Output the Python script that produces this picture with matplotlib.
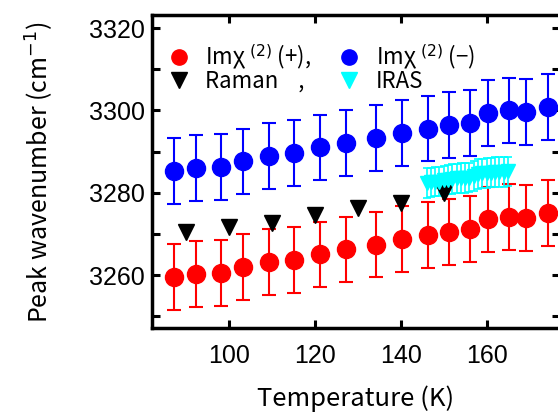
import matplotlib
matplotlib.use("Agg")
import matplotlib.pyplot as plt
from matplotlib.lines import Line2D
from matplotlib.ticker import MultipleLocator

# Im chi(2) peak positions (+) and (-) vs temperature
temp_sfg = [87.1, 92.2, 98.1, 103.2, 109.2, 115.2, 121.2, 127.2, 134.3,
            140.3, 146.3, 151.2, 156.2, 160.4, 165.2, 169.3, 174.4]
peak_plus = [3259.6, 3260.2, 3260.4, 3261.9, 3263.1, 3263.6, 3265.0, 3266.2, 3267.4,
             3268.7, 3269.7, 3270.4, 3271.1, 3273.5, 3274.0, 3273.8, 3275.0]
err_plus = [8.0] * len(temp_sfg)
peak_minus = [3285.3, 3286.1, 3286.3, 3287.6, 3288.9, 3289.6, 3291.0, 3292.1, 3293.3,
              3294.5, 3295.6, 3296.4, 3296.9, 3299.4, 3300.0, 3299.6, 3300.8]
err_minus = [8.0] * len(temp_sfg)

# Raman
temp_raman = [90, 100, 110, 120, 130, 140, 150]
peak_raman = [3270.5, 3271.7, 3272.7, 3274.7, 3276.4, 3277.6, 3280.0]

# IRAS
temp_iras = [146, 147, 148, 149, 150, 151, 152, 153, 154, 155,
             156, 157, 158, 159, 160, 161, 162, 163, 164, 165]
peak_iras = [3282.3, 3282.5, 3282.7, 3282.7, 3283.0, 3283.2, 3283.3, 3283.5, 3283.6, 3283.6,
             3283.7, 3284.0, 3284.5, 3284.7, 3284.8, 3284.9, 3285.0, 3285.1, 3285.0, 3285.2]
err_iras = [3.6] * len(temp_iras)

jp_font = ['Noto Sans CJK JP', 'DejaVu Sans']
num_font = ['Liberation Sans', 'DejaVu Sans']

fig = plt.figure(figsize=(5.58, 4.12), dpi=100)
ax = fig.add_axes([0.2724, 0.2027, 0.7303, 0.7609])

eb_kw = dict(fmt='o', markersize=13, elinewidth=1.5, capsize=4.7, capthick=1.5)
ax.errorbar(temp_sfg, peak_plus, yerr=err_plus, color='#ff0000', **eb_kw)
ax.errorbar(temp_sfg, peak_minus, yerr=err_minus, color='#0000ff', **eb_kw)
ax.errorbar(temp_iras, peak_iras, yerr=err_iras, fmt='v', color='#00ffff',
            markersize=10, elinewidth=1.2, capsize=3, capthick=1.2)
ax.plot(temp_raman, peak_raman, 'v', color='black', markersize=12, linestyle='none')

ax.set_xlim(82, 177)
ax.set_ylim(3247, 3323.2)
ax.xaxis.set_major_locator(MultipleLocator(20))
ax.yaxis.set_major_locator(MultipleLocator(20))
ax.yaxis.set_minor_locator(MultipleLocator(10))

for s in ax.spines.values():
    s.set_linewidth(2.5)
ax.tick_params(which='both', direction='in', top=True, right=True,
               length=6, width=2.2)
ax.tick_params(axis='x', pad=11)
ax.tick_params(axis='y', pad=5)
for lab in ax.get_xticklabels() + ax.get_yticklabels():
    lab.set_family(num_font)
    lab.set_fontsize(18)

ax.set_xlabel('Temperature (K)', family=jp_font, fontsize=18.5, labelpad=13)
ax.set_ylabel('Peak wavenumber (cm$^{-1}$)', family=jp_font, fontsize=18, labelpad=24)

handles = [
    Line2D([], [], marker='o', color='#ff0000', linestyle='none', markersize=11),
    Line2D([], [], marker='v', color='black', linestyle='none', markersize=11),
    Line2D([], [], marker='o', color='#0000ff', linestyle='none', markersize=11),
    Line2D([], [], marker='v', color='#00ffff', linestyle='none', markersize=11),
]
labels = ['Imχ $^{(2)}$ (+),', 'Raman    ,', 'Imχ $^{(2)}$ (−)', 'IRAS']
ax.legend(handles, labels, ncol=2, loc='upper left', bbox_to_anchor=(0.0, 0.96),
          frameon=False, prop={'family': jp_font, 'size': 16},
          handlelength=1.0, handletextpad=0.7, columnspacing=1.2,
          labelspacing=-0.1, borderaxespad=0.3)

fig.savefig('out.png', dpi=100)
